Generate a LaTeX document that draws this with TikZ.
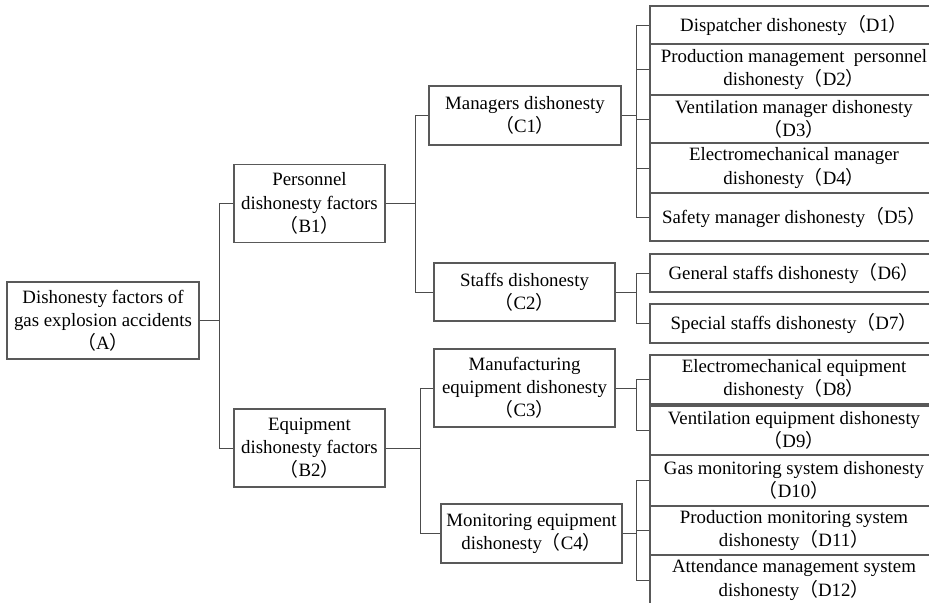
\documentclass[tikz,border=0pt]{standalone}
\usepackage{fontspec}
\setmainfont{Liberation Serif}
\newfontfamily\cjk{Noto Sans CJK SC}
\newcommand{\zlp}{{\cjk （}}
\newcommand{\zrp}{{\cjk ）}}
\usetikzlibrary{positioning}

\begin{document}
\begin{tikzpicture}[
    x=0.025cm, y=-0.025cm,
    box/.style={
        rectangle,
        draw=black!65,
        line width=0.8pt,
        align=center,
        inner sep=1pt,
        font=\fontsize{13.4}{16.5}\selectfont
    },
    leaf/.style={
        box,
        minimum width=7.2cm
    },
    link/.style={draw=black!70, line width=0.7pt}
]

\useasboundingbox (0,0) rectangle (929,603);
\clip (0,0) rectangle (929,603);

% Goal
\node[box, minimum width=4.8cm, minimum height=1.925cm] (A) at (103,320.5)
    {Dishonesty factors of\\gas explosion accidents\\\zlp A\zrp};

% Criteria
\node[box, minimum width=3.775cm, minimum height=1.93cm] (B1) at (309.5,203.5)
    {Personnel\\dishonesty factors\\\zlp B1\zrp};
\node[box, minimum width=3.775cm, minimum height=1.95cm] (B2) at (309.5,448)
    {Equipment\\dishonesty factors\\\zlp B2\zrp};

% Sub-criteria
\node[box, minimum width=4.8cm, minimum height=1.475cm] (C1) at (525,115.5)
    {Managers dishonesty\\\zlp C1\zrp};
\node[box, minimum width=4.525cm, minimum height=1.45cm] (C2) at (524.5,292)
    {Staffs dishonesty\\\zlp C2\zrp};
\node[box, minimum width=4.525cm, minimum height=1.95cm] (C3) at (524.5,388)
    {Manufacturing\\equipment dishonesty\\\zlp C3\zrp};
\node[box, minimum width=4.525cm, minimum height=1.475cm] (C4) at (531.5,533.5)
    {Monitoring equipment\\dishonesty\zlp C4\zrp};

% Indicators
\node[leaf, minimum height=0.95cm] (D1) at (794,25)
    {Dispatcher dishonesty\zlp D1\zrp};
\node[leaf, minimum height=1.275cm] (D2) at (794,69.5)
    {Production management\ \ personnel\\dishonesty\zlp D2\zrp};
\node[leaf, minimum height=1.2cm] (D3) at (794,119)
    {Ventilation manager dishonesty\\\zlp D3\zrp};
\node[leaf, minimum height=1.25cm] (D4) at (794,168)
    {Electromechanical manager\\dishonesty\zlp D4\zrp};
\node[leaf, minimum height=1.2cm] (D5) at (794,217)
    {Safety manager dishonesty\zlp D5\zrp};
\node[leaf, minimum height=0.95cm] (D6) at (794,273)
    {General staffs dishonesty\zlp D6\zrp};
\node[leaf, minimum height=0.975cm] (D7) at (794,323.5)
    {Special staffs dishonesty\zlp D7\zrp};
\node[leaf, minimum height=1.225cm] (D8) at (794,379.5)
    {Electromechanical equipment\\dishonesty\zlp D8\zrp};
\node[leaf, minimum height=1.225cm] (D9) at (794,430.5)
    {Ventilation equipment dishonesty\\\zlp D9\zrp};
\node[leaf, minimum height=1.275cm] (D10) at (794,480.5)
    {Gas monitoring system dishonesty\\\zlp D10\zrp};
\node[leaf, minimum height=1.225cm] (D11) at (794,530.5)
    {Production monitoring system\\dishonesty\zlp D11\zrp};
\node[leaf, minimum height=1.25cm] (D12) at (794,580)
    {Attendance management system\\dishonesty\zlp D12\zrp};

% Bus lines
\coordinate (busA) at (219,0);
\coordinate (busB1) at (415,0);
\coordinate (busB2) at (420,0);
\coordinate (busC) at (636,0);

\draw[link] (B1.west -| busA) -- (B2.west -| busA);
\draw[link] (C1.west -| busB1) -- (C2.west -| busB1);
\draw[link] (C3.west -| busB2) -- (C4.west -| busB2);
\draw[link] (D1.west -| busC) -- (D5.west -| busC);
\draw[link] (D6.west -| busC) -- (D7.west -| busC);
\draw[link] (D8.west -| busC) -- (D9.west -| busC);
\draw[link] (D10.west -| busC) -- (D12.west -| busC);

% Links
\draw[link] (A.east) -- (A.east -| busA);
\draw[link] (B1.east) -- (B1.east -| busB1);
\draw[link] (B2.east) -- (B2.east -| busB2);
\foreach \c in {C1,C2,C3,C4}
    \draw[link] (\c.east) -- (\c.east -| busC);
\foreach \n in {B1,B2}
    \draw[link] (\n.west) -- (\n.west -| busA);
\foreach \n in {C1,C2}
    \draw[link] (\n.west) -- (\n.west -| busB1);
\foreach \n in {C3,C4}
    \draw[link] (\n.west) -- (\n.west -| busB2);
\foreach \n in {D1,D2,D3,D4,D5,D6,D7,D8,D9,D10,D11,D12}
    \draw[link] (\n.west) -- (\n.west -| busC);

\end{tikzpicture}
\end{document}
